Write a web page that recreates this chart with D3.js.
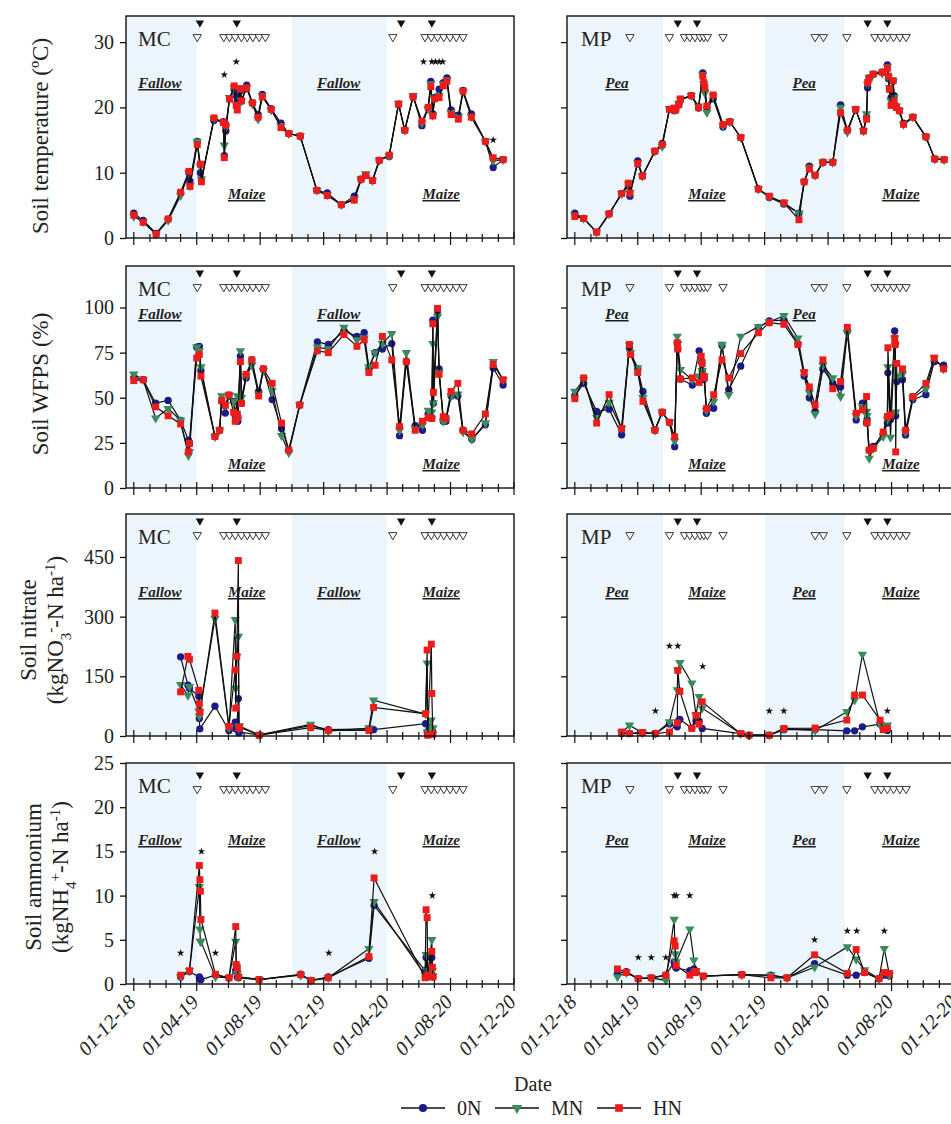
<!DOCTYPE html>
<html>
<head>
<meta charset="utf-8">
<script src="https://cdn.jsdelivr.net/npm/d3@7"></script>
<style>
body { margin: 0; background: #fff; }
svg { display: block; font-family: "Liberation Serif", "Times New Roman", serif; }
</style>
</head>
<body>
<div class="container"></div>
<script>
// ---- data ----
const seriesNames = ['0N', 'MN', 'HN'];
const yTicksTemp = [0, 10, 20, 30];
const yTicksWfps = [0, 25, 50, 75, 100];
const yTicksNit = [0, 150, 300, 450];
const yTicksAmm = [0, 5, 10, 15, 20, 25];

// soil temperature, MC
const mcTempDates = ['2018-12-01','2018-12-19','2019-01-13','2019-02-05','2019-03-01','2019-03-17','2019-03-19','2019-04-02','2019-04-08','2019-04-10','2019-05-04','2019-05-22','2019-05-24','2019-05-27','2019-06-03','2019-06-12','2019-06-16','2019-06-18','2019-06-24','2019-06-26','2019-07-06','2019-07-17','2019-07-28','2019-08-05','2019-08-22','2019-09-10','2019-09-25','2019-10-17','2019-11-18','2019-12-08','2020-01-04','2020-01-29','2020-02-11','2020-02-20','2020-03-04','2020-03-17','2020-04-05','2020-04-23','2020-05-05','2020-05-21','2020-06-07','2020-06-19','2020-06-24','2020-06-28','2020-07-01','2020-07-10','2020-07-18','2020-07-25','2020-08-02','2020-08-16','2020-08-25','2020-09-10','2020-10-07','2020-10-22','2020-11-10'];
const mcTemp0N = [3.8,2.7,0.7,2.9,6.9,10.0,8.7,14.8,10.0,9.0,18.0,17.8,12.6,16.4,21.3,22.8,21.8,21.0,22.6,21.0,23.4,20.7,18.9,22.0,19.8,17.6,16.0,15.6,7.3,6.9,5.1,6.4,9.0,9.6,8.8,11.9,12.5,20.5,16.5,21.7,17.2,20.0,24.0,19.0,21.5,22.8,23.8,24.5,19.6,18.8,22.6,19.0,14.8,10.8,12.0];
const mcTempMN = [3.3,2.5,0.6,2.7,6.5,10.0,8.0,14.8,11.0,9.0,18.2,17.7,14.2,17.0,21.5,23.0,20.5,20.0,23.0,21.0,23.0,20.5,18.2,21.8,19.6,17.2,16.0,15.6,7.3,6.6,5.1,6.0,9.0,9.8,8.8,11.9,12.6,20.6,16.5,21.8,17.6,19.8,23.6,18.8,21.3,21.8,23.6,24.2,19.2,18.5,22.4,18.6,14.8,11.8,12.0];
const mcTempHN = [3.5,2.4,0.6,2.9,7.0,10.2,7.9,14.3,11.3,8.6,18.4,17.7,12.3,17.3,21.3,23.3,20.3,19.6,22.8,21.0,23.0,20.7,18.5,21.6,19.7,16.9,16.0,15.6,7.3,6.5,5.1,5.8,9.0,9.6,8.8,11.9,12.7,20.5,16.5,21.6,17.9,20.0,23.2,18.7,21.3,21.5,23.3,24.0,18.9,18.2,22.5,18.5,14.8,12.3,12.0];
const mcTempStars = [['2019-05-24',25],['2019-06-16',27],['2020-06-10',27],['2020-06-26',27],['2020-07-03',27],['2020-07-10',27],['2020-07-17',27],['2020-10-22',15]];

// soil temperature, MP
const mpTempDates = ['2018-12-01','2018-12-18','2019-01-12','2019-02-05','2019-03-01','2019-03-14','2019-03-17','2019-04-01','2019-04-10','2019-05-04','2019-05-18','2019-06-01','2019-06-10','2019-06-13','2019-06-19','2019-06-22','2019-07-13','2019-07-27','2019-08-04','2019-08-06','2019-08-08','2019-08-12','2019-08-24','2019-09-12','2019-09-25','2019-10-16','2019-11-19','2019-12-10','2020-01-07','2020-02-05','2020-02-15','2020-02-25','2020-03-07','2020-03-22','2020-04-10','2020-04-25','2020-05-08','2020-05-24','2020-06-08','2020-06-14','2020-06-16','2020-06-19','2020-06-27','2020-07-14','2020-07-24','2020-07-26','2020-07-28','2020-07-31','2020-08-04','2020-08-06','2020-08-10','2020-08-16','2020-08-24','2020-09-11','2020-10-06','2020-10-23','2020-11-10'];
const mpTemp0N = [3.8,3.0,0.9,3.7,6.8,8.0,6.4,11.8,9.5,13.3,14.5,19.7,19.5,19.6,20.4,21.1,21.8,19.9,25.3,23.6,22.6,20.0,21.3,17.0,17.8,15.4,7.5,6.2,5.2,3.8,8.6,11.0,9.6,11.6,11.6,20.4,16.5,19.7,16.4,18.5,23.0,24.5,25.1,25.4,26.5,24.4,22.8,21.5,24.0,21.8,20.2,19.5,17.6,18.5,15.5,12.1,12.0];
const mpTempMN = [3.5,3.0,0.9,3.7,6.8,8.2,6.9,11.5,9.5,13.3,14.0,19.8,19.7,19.8,20.6,21.2,21.8,20.2,25.0,23.6,22.2,19.2,21.7,17.2,17.8,15.4,7.5,6.3,5.4,3.8,8.6,10.8,9.6,11.6,11.6,20.0,16.2,19.7,16.4,19.0,23.5,24.5,25.1,25.2,26.2,24.6,23.0,21.0,24.0,21.5,20.2,19.5,17.4,18.5,15.5,12.1,12.0];
const mpTempHN = [3.3,3.0,0.9,3.7,6.8,8.4,6.9,11.4,9.5,13.3,14.3,19.7,19.9,19.6,20.4,21.3,21.8,20.0,24.8,23.8,23.0,20.2,21.9,17.4,17.8,15.4,7.5,6.4,5.4,2.8,8.6,10.6,9.6,11.6,11.6,19.2,16.5,19.7,16.4,18.2,23.8,24.5,25.1,25.4,26.0,24.8,22.8,20.3,24.1,21.0,20.0,19.5,17.4,18.5,15.5,12.1,12.0];
const mpTempStars = [];

// soil WFPS, MC
const mcWfpsDates = ['2018-12-01','2018-12-19','2019-01-12','2019-02-05','2019-03-01','2019-03-16','2019-03-18','2019-04-01','2019-04-06','2019-04-09','2019-05-06','2019-05-15','2019-05-19','2019-05-26','2019-06-02','2019-06-11','2019-06-14','2019-06-18','2019-06-19','2019-06-24','2019-06-26','2019-07-05','2019-07-16','2019-07-29','2019-08-07','2019-08-24','2019-09-11','2019-09-25','2019-10-16','2019-11-19','2019-12-10','2020-01-09','2020-02-03','2020-02-17','2020-02-26','2020-03-09','2020-03-23','2020-04-10','2020-04-25','2020-05-08','2020-05-25','2020-06-08','2020-06-19','2020-06-26','2020-06-28','2020-06-29','2020-07-07','2020-07-10','2020-07-18','2020-07-23','2020-08-02','2020-08-15','2020-08-25','2020-09-11','2020-10-07','2020-10-22','2020-11-10'];
const mcWfps0N = [61,60,47,48.5,37.5,26.5,24.7,78,78.5,65,28.5,32,48,41.5,51.5,48,40,48,37,73,47,61,71,53.5,66,49,33,21,46,81,79.5,87,84,86,66,75,77,80,29,70,34.5,32,41,39,93,47,98,66,37,37,51,51,32,27,35,66.5,57];
const mcWfpsMN = [63,60,38.7,44,37.5,18,20,78,76,67,28.5,32,51,46,51.5,48,40,51,38,76,50,62,68,52,65,54,29,19.5,46,78,77,89,82,83,67,75,80,85.5,32,75,33,35,43,42,80,47,95,64,37,38,51,52,31,27,36,70,60];
const mcWfpsHN = [59.5,60,45,40,35.5,20,24.7,72,74,62,28.5,32,48.5,45.8,51.5,42,37,41,39,70,47,63,71,51,66,58,36,21,46,76,75,85,78.5,82,64,68,84,71,34,70,32,37,39,38.5,91,53,99.5,63,39.5,38.6,53.5,58,32,30,41,68.4,60];
const mcWfpsStars = [];

// soil WFPS, MP
const mpWfpsDates = ['2018-12-01','2018-12-18','2019-01-12','2019-02-05','2019-03-01','2019-03-16','2019-03-18','2019-04-01','2019-04-11','2019-05-04','2019-05-18','2019-06-01','2019-06-11','2019-06-16','2019-06-17','2019-06-22','2019-07-15','2019-07-28','2019-08-01','2019-08-03','2019-08-05','2019-08-07','2019-08-11','2019-08-25','2019-09-10','2019-09-23','2019-10-16','2019-11-19','2019-12-10','2020-01-07','2020-02-03','2020-02-15','2020-02-25','2020-03-07','2020-03-22','2020-04-10','2020-04-25','2020-05-08','2020-05-25','2020-06-06','2020-06-14','2020-06-15','2020-06-19','2020-06-27','2020-07-16','2020-07-24','2020-07-25','2020-07-30','2020-08-07','2020-08-08','2020-08-09','2020-08-11','2020-08-22','2020-08-28','2020-09-11','2020-10-06','2020-10-22','2020-11-09'];
const mpWfps0N = [51,58,42.4,43.7,29.5,77.7,74,66,53.5,32,42,36.4,22.9,80,77,60.4,57,76,70,65,60,61,41.4,44.2,79,54.5,67.5,89,92.6,93,80,62,50,42.4,66,58,56,87,37.7,47,36,38,21,23,30,36,63.8,38,87,80,40,59,60,29.4,49,51.7,70,68];
const mpWfpsMN = [53.5,60,39,47.4,33,79,75,66.5,50,32,42,36.4,26,84,80,65.6,60,62,70,65,62,62,43,48,79.5,51.7,84,89.4,92,95.4,83,64,53,41,68,61,50.7,86,40,45,42.4,40,16.4,22,28.5,38,67,28,83,79,42,62,63,31,50,55,72,66];
const mpWfpsHN = [49.5,61,36,51.7,33,79.5,74,64,48,32,42,36.4,28.4,80.5,77,60.4,61,58.5,73,69,62,61,44,51.7,71,61,74.5,86,91.6,90.7,79.5,64,56,46,71,55,59,89,41.4,43.3,50.7,36.2,21,22,31,39.6,77.7,40.5,83,79.5,20,69,66,32,50.7,58,72,66];
const mpWfpsStars = [];

// soil nitrate, MC
const mcNitDates = ['2019-03-01','2019-03-15','2019-03-18','2019-04-05','2019-04-06','2019-04-07','2019-05-06','2019-06-02','2019-06-14','2019-06-15','2019-06-17','2019-06-20','2019-06-21','2019-06-22','2019-07-30','2019-11-06','2019-12-10','2020-02-26','2020-03-06','2020-06-14','2020-06-17','2020-06-18','2020-06-25','2020-06-26','2020-06-28'];
const mcNit0N = [199,128,120,100,44,18,75,14,35,18,20,94,8,10,2,26,16,18,16,31,10,3,8,5,10];
const mcNitMN = [129,102,124,63,50,60,295,20,292,120,200,250,20,25,3,29,12,20,90,55,183,10,40,15,20];
const mcNitHN = [111,200,193,115,81,60,309,24,166,70,200,441,20,22,2,21,14,14,72,56,216,2,231,107,5];
const mcNitStars = [];

// soil nitrate, MP
const mpNitDates = ['2019-03-01','2019-03-16','2019-04-10','2019-05-05','2019-06-01','2019-06-16','2019-06-17','2019-06-21','2019-07-14','2019-07-22','2019-07-28','2019-08-03','2019-10-16','2019-11-01','2019-12-10','2020-01-07','2020-03-07','2020-05-07','2020-05-22','2020-06-06','2020-07-10','2020-07-16','2020-07-24'];
const mpNit0N = [6,6,8,6,30,23,36,42,20,38,37,19,6,2,2,16,16,13,13,23,30,20,14];
const mpNitMN = [8,27,8,6,35,116,165,184,133,53,99,70,6,2,2,18,14,61,90,205,29,25,27];
const mpNitHN = [10,6,9,6,10,33,165,112,19,52,30,86,6,2,2,19,20,40,103,103,40,16,19];
const mpNitStars = [['2019-05-05',63],['2019-06-01',226],['2019-06-17',226],['2019-08-04',175],['2019-12-10',63],['2020-01-07',63],['2020-07-24',63]];

// soil ammonium, MC
const mcAmmDates = ['2019-03-01','2019-03-18','2019-04-06','2019-04-07','2019-04-08','2019-04-09','2019-05-07','2019-06-02','2019-06-15','2019-06-16','2019-06-18','2019-06-20','2019-07-30','2019-10-18','2019-11-07','2019-12-10','2020-02-26','2020-03-07','2020-06-13','2020-06-15','2020-06-17','2020-06-18','2020-06-26','2020-06-27','2020-06-28'];
const mcAmm0N = [0.8,1.4,0.8,0.6,0.5,0.5,1.0,0.7,1.5,1.5,0.8,0.7,0.5,1.1,0.4,0.8,2.9,8.9,1.5,3.0,1.0,0.8,3.0,1.0,0.8];
const mcAmmMN = [0.8,1.5,11.0,6.2,4.8,4.8,0.8,0.7,4.8,2.0,1.2,0.8,0.5,1.0,0.4,0.7,4.0,9.3,1.0,3.3,1.5,0.9,5.0,1.5,0.9];
const mcAmmHN = [1.0,1.5,13.4,11.8,10.5,7.3,1.1,0.7,6.5,2.2,1.8,0.8,0.5,1.05,0.4,0.7,3.1,12.0,0.7,8.4,7.5,1.0,3.7,1.9,0.8];
const mcAmmStars = [['2019-03-01',3.5],['2019-04-10',15],['2019-05-07',3.5],['2019-12-11',3.5],['2020-03-08',15],['2020-06-27',10]];

// soil ammonium, MP
const mpAmmDates = ['2019-02-21','2019-03-10','2019-04-02','2019-04-27','2019-05-25','2019-06-10','2019-06-12','2019-06-14','2019-07-10','2019-07-18','2019-07-22','2019-08-05','2019-10-18','2019-12-13','2020-01-13','2020-03-06','2020-05-08','2020-05-25','2020-06-10','2020-07-08','2020-07-18','2020-07-28'];
const mpAmm0N = [1.2,1.4,0.6,0.7,1.0,2.5,2.0,1.8,1.5,1.7,1.3,0.9,1.05,1.0,0.7,2.3,1.0,1.0,1.3,0.6,1.0,0.9];
const mpAmmMN = [0.8,1.3,0.6,0.7,0.4,7.3,3.4,2.5,6.2,2.7,1.5,0.9,1.05,1.0,0.7,1.9,4.2,2.8,1.6,0.6,4.0,1.0];
const mpAmmHN = [1.7,1.3,0.6,0.7,1.0,4.9,4.3,2.1,1.0,1.3,1.4,0.9,1.05,0.7,0.7,3.3,1.2,3.9,1.3,0.6,1.3,1.2];
const mpAmmStars = [['2019-04-02',3],['2019-04-27',3],['2019-05-25',3],['2019-06-10',10],['2019-06-14',10],['2019-07-10',10],['2020-03-06',5],['2020-05-08',6],['2020-05-26',6],['2020-07-18',6]];

// management events (open = ▽, filled = ▼)
const mcOpenEvents = ['2019-04-02','2019-05-23','2019-06-03','2019-06-14','2019-06-26','2019-07-07','2019-07-18','2019-07-30','2019-08-11','2020-04-12','2020-06-13','2020-06-25','2020-07-07','2020-07-19','2020-07-31','2020-08-12','2020-08-25'];
const mcFilledEvents = ['2019-04-07','2019-06-17','2020-04-28','2020-06-26'];
const mpOpenEvents = ['2019-03-17','2019-06-01','2019-06-30','2019-07-10','2019-07-20','2019-07-30','2019-08-06','2019-08-13','2019-09-12','2020-03-07','2020-03-23','2020-05-07','2020-06-30','2020-07-12','2020-07-24','2020-08-05','2020-08-17','2020-08-29'];
const mpFilledEvents = ['2019-06-17','2019-07-24','2020-06-16','2020-07-24'];

// crop periods and labels
const mcShadeStart = ['2018-11-16','2019-10-01'];
const mcShadeEnd = ['2019-04-01','2020-04-01'];
const mpShadeStart = ['2018-11-16','2019-12-01'];
const mpShadeEnd = ['2019-05-20','2020-05-03'];
const mcCropNames = ['Fallow','Maize','Fallow','Maize'];
const mpCropNames = ['Pea','Maize','Pea','Maize'];
const mcCropLabelDates = ['2019-01-20','2019-07-06','2019-12-30','2020-07-14'];
const mpCropLabelDates = ['2019-02-20','2019-08-12','2020-02-15','2020-08-19'];

// ---- layout ----
const WIDTH = 951;
const HEIGHT = 1124;
const COL_X = [[126, 514], [567, 955]];
const ROW_Y = [[16, 238], [266, 488], [514, 736], [763, 984]];
const COLORS = ['#1c1a8a', '#3b8a5c', '#ee1b1b'];
const SHADE = '#edf5fc';

var parse = d3.timeParse('%Y-%m-%d');
var fmt = d3.timeFormat('%d-%m-%y');

var translate = function (x, y) {
    return 'translate(' + x + ',' + y + ')';
};

var xBase = d3.scaleTime()
    .domain([parse('2018-11-16'), parse('2020-12-01')]);

var sites = [
    { name: 'MC', open: mcOpenEvents, filled: mcFilledEvents, shadeStart: mcShadeStart, shadeEnd: mcShadeEnd, crops: mcCropNames, cropDates: mcCropLabelDates },
    { name: 'MP', open: mpOpenEvents, filled: mpFilledEvents, shadeStart: mpShadeStart, shadeEnd: mpShadeEnd, crops: mpCropNames, cropDates: mpCropLabelDates }
];

// per row: y max, ticks, label offsets (upper, lower), event triangle offsets
var rows = [
    { ymax: 34, ticks: yTicksTemp, labY: [67, 178], triY: [7, 21] },
    { ymax: 123, ticks: yTicksWfps, labY: [48, 198], triY: [7, 21] },
    { ymax: 558, ticks: yTicksNit, labY: [78, 78], triY: [7, 21] },
    { ymax: 25, ticks: yTicksAmm, labY: [77, 77], triY: [12, 26] }
];

var panels = [
    { row: 0, col: 0, dates: mcTempDates, vals: [mcTemp0N, mcTempMN, mcTempHN], stars: mcTempStars },
    { row: 0, col: 1, dates: mpTempDates, vals: [mpTemp0N, mpTempMN, mpTempHN], stars: mpTempStars },
    { row: 1, col: 0, dates: mcWfpsDates, vals: [mcWfps0N, mcWfpsMN, mcWfpsHN], stars: mcWfpsStars },
    { row: 1, col: 1, dates: mpWfpsDates, vals: [mpWfps0N, mpWfpsMN, mpWfpsHN], stars: mpWfpsStars },
    { row: 2, col: 0, dates: mcNitDates, vals: [mcNit0N, mcNitMN, mcNitHN], stars: mcNitStars },
    { row: 2, col: 1, dates: mpNitDates, vals: [mpNit0N, mpNitMN, mpNitHN], stars: mpNitStars },
    { row: 3, col: 0, dates: mcAmmDates, vals: [mcAmm0N, mcAmmMN, mcAmmHN], stars: mcAmmStars },
    { row: 3, col: 1, dates: mpAmmDates, vals: [mpAmm0N, mpAmmMN, mpAmmHN], stars: mpAmmStars }
];

var symbols = [d3.symbolCircle, d3.symbolTriangle, d3.symbolSquare];
var symSizes = [42, 38, 48];
var symRot = [0, 180, 0];

var svg = d3.select('.container').append('svg')
    .attr('width', WIDTH)
    .attr('height', HEIGHT);

var months = d3.timeMonth.range(parse('2018-12-01'), parse('2020-12-02'));

var drawPanel = function (p) {
    var site = sites[p.col];
    var row = rows[p.row];
    var xr = COL_X[p.col], yr = ROW_Y[p.row];
    var xs = xBase.copy().range(xr);
    var ys = d3.scaleLinear().domain([0, row.ymax]).range([yr[1], yr[0]]);
    var g = svg.append('g');

    // shaded crop periods
    site.shadeStart.forEach(function (s, i) {
        var a = xs(parse(s)), b = xs(parse(site.shadeEnd[i]));
        g.append('rect')
            .attr('x', a).attr('y', yr[0])
            .attr('width', b - a).attr('height', yr[1] - yr[0])
            .attr('fill', SHADE);
    });

    // crop labels
    site.crops.forEach(function (c, i) {
        var upper = (i % 2 === 0);
        g.append('text')
            .attr('x', xs(parse(site.cropDates[i])))
            .attr('y', yr[0] + (upper ? row.labY[0] : row.labY[1]) + 5)
            .attr('text-anchor', 'middle')
            .attr('font-size', 15)
            .attr('font-weight', 'bold')
            .attr('font-style', 'italic')
            .attr('text-decoration', 'underline')
            .attr('fill', '#1e1e1e')
            .text(c);
    });

    // site label
    g.append('text')
        .attr('x', xr[0] + (p.col === 0 ? 12 : 14))
        .attr('y', yr[0] + 30)
        .attr('font-size', 21)
        .attr('fill', '#222')
        .text(site.name);

    // management triangles
    var tri = d3.symbol().type(d3.symbolTriangle).size(30);
    g.selectAll('.filled').data(site.filled).enter().append('path')
        .attr('d', tri)
        .attr('transform', function (d) { return translate(xs(parse(d)), yr[0] + row.triY[0]) + ' rotate(180)'; })
        .attr('fill', '#111');
    g.selectAll('.open').data(site.open).enter().append('path')
        .attr('d', tri)
        .attr('transform', function (d) { return translate(xs(parse(d)), yr[0] + row.triY[1]) + ' rotate(180)'; })
        .attr('fill', '#fff')
        .attr('stroke', '#222')
        .attr('stroke-width', 0.9);

    // series
    var line = d3.line()
        .x(function (d) { return xs(d.date); })
        .y(function (d) { return ys(d.value); });

    p.vals.forEach(function (vals, k) {
        var data = p.dates.map(function (d, i) { return { date: parse(d), value: vals[i] }; });
        g.append('path')
            .attr('d', line(data))
            .attr('fill', 'none')
            .attr('stroke', '#111')
            .attr('stroke-width', 1.2);
        g.selectAll('.m' + k).data(data).enter().append('path')
            .attr('d', d3.symbol().type(symbols[k]).size(symSizes[k]))
            .attr('transform', function (d) {
                return translate(xs(d.date), ys(d.value)) + (symRot[k] ? ' rotate(' + symRot[k] + ')' : '');
            })
            .attr('fill', COLORS[k]);
    });

    // significance stars
    g.selectAll('.star').data(p.stars).enter().append('path')
        .attr('d', d3.symbol().type(d3.symbolStar).size(18))
        .attr('transform', function (d) { return translate(xs(parse(d[0])), ys(d[1])); })
        .attr('fill', '#111');

    // frame
    g.append('rect')
        .attr('x', xr[0]).attr('y', yr[0])
        .attr('width', xr[1] - xr[0]).attr('height', yr[1] - yr[0])
        .attr('fill', 'none')
        .attr('stroke', '#111')
        .attr('stroke-width', 1.4);

    // y axis
    var yAxis = d3.axisLeft(ys)
        .tickValues(row.ticks)
        .tickSize(6)
        .tickPadding(6)
        .tickFormat(p.col === 0 ? d3.format('d') : function () { return ''; });
    var ya = g.append('g')
        .attr('transform', translate(xr[0], 0))
        .call(yAxis);
    ya.select('.domain').remove();
    ya.selectAll('line').attr('stroke', '#111').attr('stroke-width', 1.3);
    ya.selectAll('text')
        .attr('font-size', 20)
        .attr('font-family', '"Liberation Serif", serif')
        .attr('fill', '#222');

    // x ticks (monthly, longer every 4 months)
    g.selectAll('.xt').data(months).enter().append('line')
        .attr('x1', function (d) { return xs(d); })
        .attr('x2', function (d) { return xs(d); })
        .attr('y1', function (d) { return yr[1] - (d.getMonth() % 4 === 3 ? 6 : 4); })
        .attr('y2', function (d) { return yr[1] + (d.getMonth() % 4 === 3 ? 7 : 4); })
        .attr('stroke', '#111')
        .attr('stroke-width', 1.2);

    if (p.row === 3) {
        var majors = months.filter(function (d) { return d.getMonth() % 4 === 3; });
        g.selectAll('.xl').data(majors).enter().append('text')
            .attr('transform', function (d) { return translate(xs(d) + 3, yr[1] + 19) + ' rotate(-47)'; })
            .attr('text-anchor', 'end')
            .attr('font-size', 20)
            .attr('font-style', 'italic')
            .attr('fill', '#222')
            .text(function (d) { return fmt(d); });
    }
};

panels.forEach(drawPanel);

// y titles
var yTitle = function (cx, cy, parts) {
    var t = svg.append('text')
        .attr('transform', translate(cx, cy) + ' rotate(-90)')
        .attr('text-anchor', 'middle')
        .attr('dy', '0.35em')
        .attr('font-size', 23)
        .attr('fill', '#222');
    parts.forEach(function (pt) {
        var s = t.append('tspan').text(pt[0]);
        if (pt[1]) {
            s.attr('baseline-shift', pt[1]).attr('font-size', 15);
        }
    });
};
yTitle(40, 136, [['Soil temperature (ºC)']]);
yTitle(40, 384, [['Soil WFPS (%)']]);
yTitle(28, 630, [['Soil nitrate']]);
yTitle(55, 630, [['(kgNO'], ['3', 'sub'], ['-', 'super'], ['-N ha'], ['-1', 'super'], [')']]);
yTitle(33, 877, [['Soil ammonium']]);
yTitle(60, 877, [['(kgNH'], ['4', 'sub'], ['+', 'super'], ['-N ha'], ['-1', 'super'], [')']]);

// x title
svg.append('text')
    .attr('x', 533).attr('y', 1091)
    .attr('text-anchor', 'middle')
    .attr('font-size', 20)
    .attr('fill', '#222')
    .text('Date');

// legend
var legendX = [401, 495, 597];
var lg = svg.append('g').attr('transform', translate(0, 1108));
seriesNames.forEach(function (name, k) {
    var x0 = legendX[k];
    lg.append('line')
        .attr('x1', x0).attr('x2', x0 + 44)
        .attr('y1', 0).attr('y2', 0)
        .attr('stroke', '#111').attr('stroke-width', 1.3);
    lg.append('path')
        .attr('d', d3.symbol().type(symbols[k]).size(symSizes[k] + 10))
        .attr('transform', translate(x0 + 22, 0) + (symRot[k] ? ' rotate(180)' : ''))
        .attr('fill', COLORS[k]);
    lg.append('text')
        .attr('x', x0 + 56).attr('y', 0)
        .attr('dy', '0.35em')
        .attr('font-size', 20)
        .attr('fill', '#222')
        .text(name);
});
</script>
</body>
</html>
